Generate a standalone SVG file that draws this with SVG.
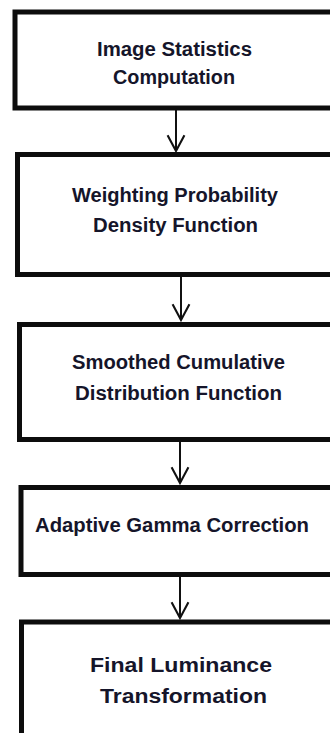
<svg xmlns="http://www.w3.org/2000/svg" width="330" height="733" viewBox="0 0 330 733">
<defs>
<style>
.box{fill:#fff;stroke:#0d0d0d;stroke-width:5}
.t{font-family:"Liberation Sans",Arial,sans-serif;font-weight:bold;font-size:20px;fill:#15152a;text-anchor:start}
.c{stroke:#111;stroke-width:2;fill:none}
</style>
<marker id="ah" markerUnits="userSpaceOnUse" markerWidth="20" markerHeight="24" viewBox="-17 -10 19 20" refX="0" refY="0" orient="auto">
<path d="M-15,-8 L0,0 L-15,8" fill="none" stroke="#111" stroke-width="2"/>
</marker>
</defs>
<rect width="330" height="733" fill="#fff"/>
<g id="connectors">
<line class="c" x1="176" y1="110" x2="176" y2="151" marker-end="url(#ah)"/>
<line class="c" x1="181" y1="277" x2="181" y2="320" marker-end="url(#ah)"/>
<line class="c" x1="180" y1="441" x2="180" y2="483" marker-end="url(#ah)"/>
<line class="c" x1="180" y1="577" x2="180" y2="618" marker-end="url(#ah)"/>
</g>
<g id="n1">
<rect class="box" x="15" y="12" width="340" height="96"/>
<text class="t" font-size="19" x="97" y="56" textLength="155" lengthAdjust="spacingAndGlyphs">Image Statistics</text>
<text class="t" font-size="19" x="113" y="84" textLength="122" lengthAdjust="spacingAndGlyphs">Computation</text>
</g>
<g id="n2">
<rect class="box" x="17.5" y="154.5" width="340" height="120"/>
<text class="t" x="72" y="202" textLength="206" lengthAdjust="spacingAndGlyphs">Weighting Probability</text>
<text class="t" x="93" y="232" textLength="165" lengthAdjust="spacingAndGlyphs">Density Function</text>
</g>
<g id="n3">
<rect class="box" x="19.5" y="324.5" width="340" height="115"/>
<text class="t" font-size="21" x="72" y="369" textLength="213" lengthAdjust="spacingAndGlyphs">Smoothed Cumulative</text>
<text class="t" font-size="21" x="75" y="400" textLength="207" lengthAdjust="spacingAndGlyphs">Distribution Function</text>
</g>
<g id="n4">
<rect class="box" x="21" y="487.5" width="340" height="87"/>
<text class="t" x="35" y="532" textLength="274" lengthAdjust="spacingAndGlyphs">Adaptive Gamma Correction</text>
</g>
<g id="n5">
<rect class="box" x="21.5" y="622" width="340" height="130"/>
<text class="t" x="90" y="672" textLength="182" lengthAdjust="spacingAndGlyphs">Final Luminance</text>
<text class="t" x="100" y="703" textLength="167" lengthAdjust="spacingAndGlyphs">Transformation</text>
</g>
</svg>
